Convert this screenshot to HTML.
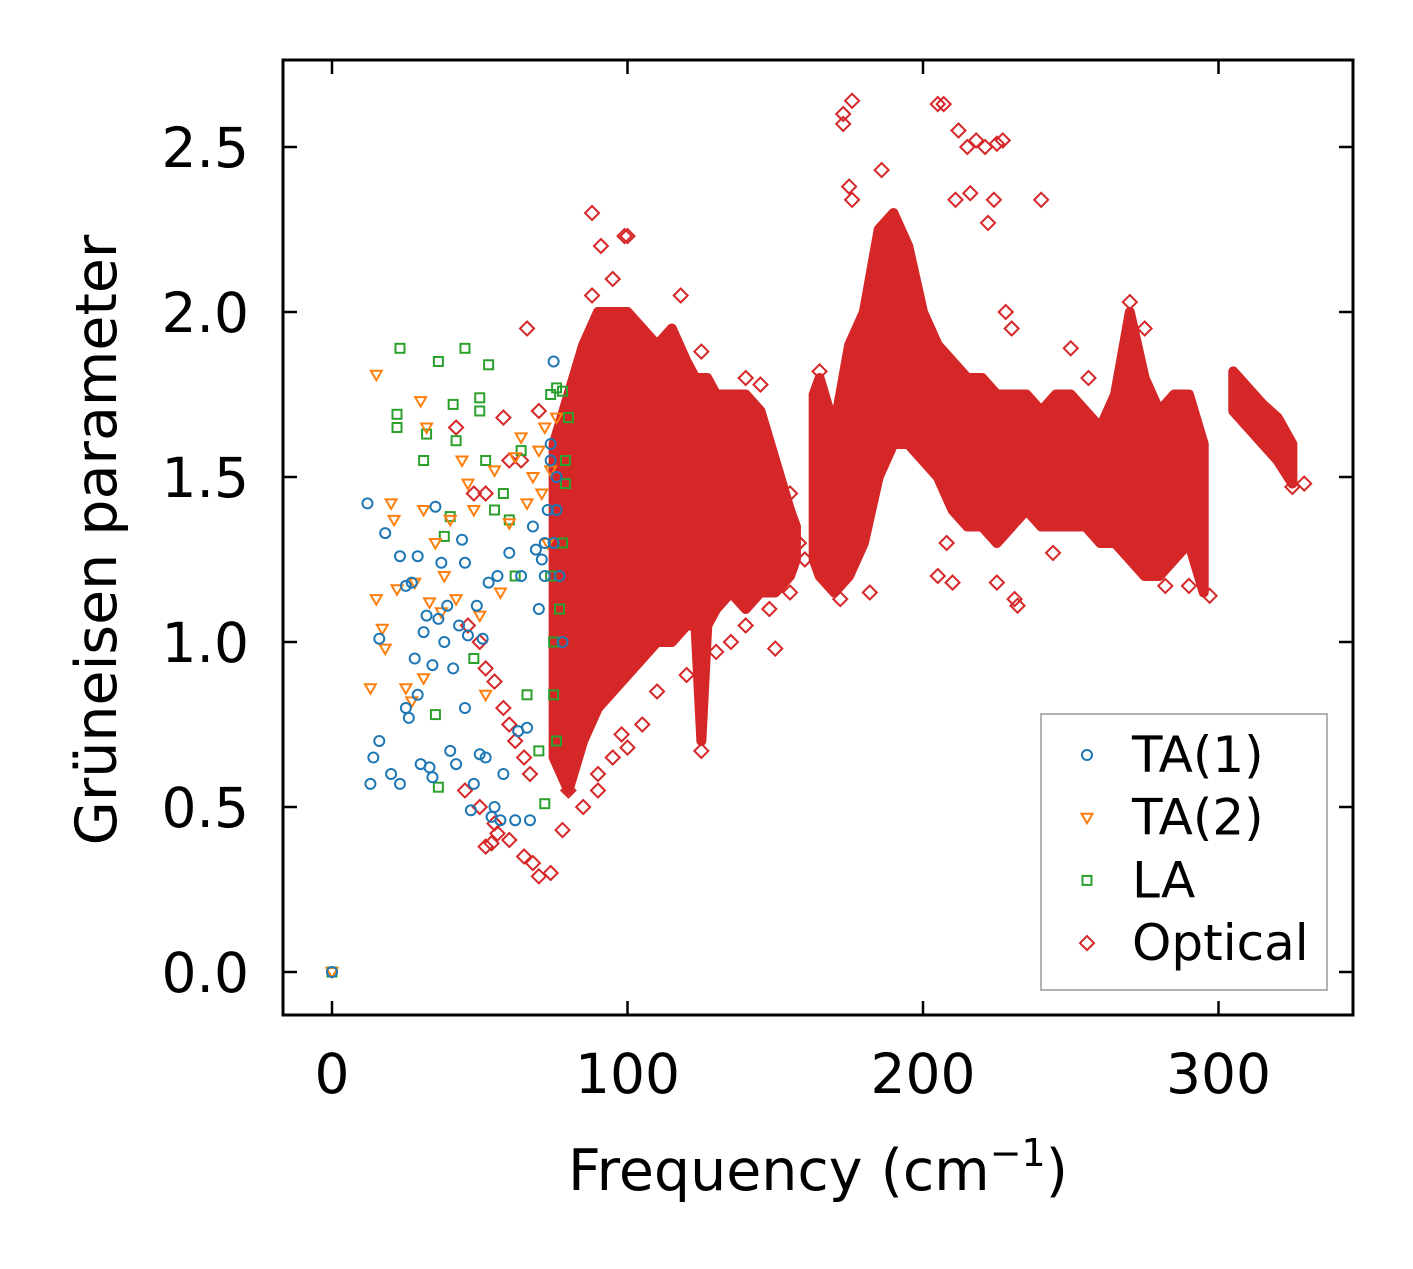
<!DOCTYPE html>
<html><head><meta charset="utf-8"><style>
body{margin:0;background:#fff}
svg text{font-family:"DejaVu Sans","Liberation Sans",sans-serif;fill:#000}
</style></head><body>
<svg width="1413" height="1264" viewBox="0 0 1413 1264" id="chart">
<rect x="0" y="0" width="1413" height="1264" fill="#fff"/>
<g id="plot"></g>
<g id="axes"></g>
<text x="116" y="540" font-size="57" text-anchor="middle" transform="rotate(-90 116 540)">Grüneisen parameter</text>
<text x="818" y="1190" font-size="57" text-anchor="middle">Frequency (cm<tspan dy="-24" font-size="38">−1</tspan><tspan dy="24">)</tspan></text>
<g id="legend"></g>
</svg>
<script>
const xTicks=[0,100,200,300];
const yTicks=[0.0,0.5,1.0,1.5,2.0,2.5];
const xTickLabels=["0","100","200","300"];
const yTickLabels=["0.0","0.5","1.0","1.5","2.0","2.5"];
const ta1=[[0,0],[12,1.42],[13,0.57],[14,0.65],[16,0.7],[16,1.01],[18,1.33],[20,0.6],[23,1.26],[23,0.57],[25,1.17],[25,0.8],[26,0.77],[27,1.18],[28,0.95],[29,1.26],[29,0.84],[30,0.63],[31,1.03],[32,1.08],[33,0.62],[34,0.93],[34,0.59],[35,1.41],[36,1.07],[37,1.24],[38,1.0],[39,1.11],[40,0.67],[41,0.92],[42,0.63],[43,1.05],[44,1.31],[45,0.8],[45,1.24],[46,1.02],[47,0.49],[48,0.57],[49,1.11],[50,0.66],[51,1.01],[52,0.65],[53,1.18],[54,0.47],[55,0.5],[56,1.2],[57,0.46],[58,0.6],[60,1.27],[62,0.46],[63,0.73],[64,1.2],[66,0.74],[67,0.46],[68,1.35],[70,1.1],[72,1.3],[74,1.55],[75,1.85],[75,1.3],[76,1.4],[77,1.2],[78,1.0],[71,1.25],[73,1.4],[74,1.6],[76,1.5],[69,1.28],[72,1.2]];
const ta2=[[0,0],[13,0.86],[15,1.81],[15,1.13],[17,1.04],[18,0.98],[20,1.42],[21,1.37],[22,1.16],[25,0.86],[27,0.82],[28,1.18],[30,1.73],[31,1.4],[31,0.89],[32,1.65],[33,1.12],[35,1.3],[37,1.09],[38,1.2],[40,1.37],[42,1.13],[44,1.55],[46,1.48],[48,1.4],[50,1.08],[52,0.84],[55,1.52],[57,1.15],[60,1.36],[62,1.56],[64,1.62],[66,1.42],[68,1.5],[70,1.58],[72,1.65],[74,1.52],[76,1.68],[73,1.3],[71,1.45]];
const la=[[0,0],[23,1.89],[22,1.69],[22,1.65],[31,1.55],[32,1.63],[35,0.78],[36,1.85],[36,0.56],[38,1.32],[40,1.38],[41,1.72],[42,1.61],[45,1.89],[48,0.95],[50,1.7],[50,1.74],[53,1.84],[52,1.55],[55,1.4],[58,1.45],[60,1.37],[62,1.2],[64,1.58],[66,0.84],[70,0.67],[72,0.51],[74,1.75],[75,0.84],[76,1.77],[78,1.76],[79,1.48],[80,1.68],[78,1.3],[77,1.1],[75,1.0],[76,0.7],[79,1.55],[74,1.2]];
const optFreq=[75,80,85,90,95,100,105,110,115,120,123,125,127,130,135,140,145,150,155,157,163,165,170,175,180,185,190,195,200,205,210,215,220,225,230,235,240,245,250,255,260,265,270,275,280,285,290,295,305,310,315,320,325];
const optLow=[0.65,0.55,0.7,0.8,0.85,0.9,0.95,1.0,1.0,1.05,1.05,0.7,1.05,1.1,1.15,1.1,1.15,1.15,1.2,1.25,1.25,1.2,1.15,1.2,1.3,1.5,1.6,1.6,1.55,1.5,1.4,1.35,1.35,1.3,1.35,1.4,1.35,1.35,1.35,1.35,1.3,1.3,1.25,1.2,1.2,1.25,1.3,1.15,1.7,1.65,1.6,1.55,1.48];
const optHigh=[1.6,1.75,1.9,2.0,2.0,2.0,1.95,1.9,1.95,1.85,1.8,1.8,1.8,1.75,1.75,1.75,1.7,1.55,1.4,1.35,1.75,1.8,1.65,1.9,2.0,2.25,2.3,2.2,2.0,1.9,1.85,1.8,1.8,1.75,1.75,1.75,1.7,1.75,1.75,1.7,1.65,1.75,2.0,1.8,1.7,1.75,1.75,1.6,1.82,1.77,1.72,1.68,1.6];
const optPts=[[66,1.95],[88,2.3],[91,2.2],[99,2.23],[100,2.23],[176,2.64],[173,2.6],[173,2.57],[205,2.63],[207,2.63],[212,2.55],[215,2.5],[221,2.5],[225,2.51],[227,2.52],[218,2.52],[211,2.34],[216,2.36],[222,2.27],[175,2.38],[176,2.34],[186,2.43],[70,0.29],[74,0.3],[60,0.4],[52,0.38],[54,0.39],[78,0.43],[85,0.5],[90,0.55],[100,0.68],[98,0.72],[42,1.65],[48,1.45],[52,1.45],[58,1.68],[60,1.55],[64,1.55],[70,1.7],[130,0.97],[125,0.67],[150,0.98],[172,1.13],[182,1.15],[205,1.2],[208,1.3],[232,1.11],[231,1.13],[225,1.18],[244,1.27],[282,1.17],[290,1.17],[297,1.14],[329,1.48],[325,1.47],[210,1.18],[240,2.34],[224,2.34],[228,2.0],[230,1.95],[250,1.89],[256,1.8],[243,1.57],[260,1.45],[55,0.45],[56,0.42],[65,0.35],[68,0.33],[80,0.55],[45,0.55],[50,0.5],[46,1.05],[50,1.0],[52,0.92],[55,0.88],[58,0.8],[60,0.75],[62,0.7],[65,0.65],[67,0.6],[88,2.05],[95,2.1],[118,2.05],[125,1.88],[140,1.8],[145,1.78],[155,1.45],[165,1.82],[158,1.3],[160,1.25],[90,0.6],[95,0.65],[105,0.75],[110,0.85],[120,0.9],[135,1.0],[140,1.05],[148,1.1],[155,1.15],[270,2.03],[275,1.95]];
const NS="http://www.w3.org/2000/svg";
const L=283,R=1353,T=60,B=1015;
function sx(v){return 332+v*2.955;}
function sy(v){return 972-v*330;}
function mk(tag,attrs,parent){const e=document.createElementNS(NS,tag);for(const k in attrs)e.setAttribute(k,attrs[k]);parent.appendChild(e);return e;}
const plot=document.getElementById('plot'),axes=document.getElementById('axes'),legend=document.getElementById('legend');
let runs=[[0]];
for(let i=1;i<optFreq.length;i++){ if(optFreq[i]-optFreq[i-1]>5.5) runs.push([i]); else runs[runs.length-1].push(i); }
runs.forEach(run=>{
 let top=run.map(i=>`${sx(optFreq[i])},${sy(optHigh[i])}`);
 let bot=run.slice().reverse().map(i=>`${sx(optFreq[i])},${sy(optLow[i])}`);
 const p=mk('polygon',{points:top.concat(bot).join(' '),fill:'#d62728',stroke:'#d62728','stroke-width':10,'stroke-linejoin':'round'},plot);
 
 
});
function diamond(x,y,p,name){const s=7;const e=mk('path',{d:`M${x} ${y-s}L${x+s} ${y}L${x} ${y+s}L${x-s} ${y}Z`,fill:'none',stroke:'#d62728','stroke-width':2},p);}
function circ(x,y,p,name){const e=mk('circle',{cx:x,cy:y,r:5,fill:'none',stroke:'#1f77b4','stroke-width':2},p);}
function tri(x,y,p,name){const e=mk('path',{d:`M${x-5.5} ${y-4}L${x+5.5} ${y-4}L${x} ${y+5.5}Z`,fill:'none',stroke:'#ff7f0e','stroke-width':2},p);}
function sq(x,y,p,name){const e=mk('rect',{x:x-4.5,y:y-4.5,width:9,height:9,fill:'none',stroke:'#2ca02c','stroke-width':2},p);}
optPts.forEach(p=>diamond(sx(p[0]),sy(p[1]),plot,'optical-point'));
la.forEach(p=>sq(sx(p[0]),sy(p[1]),plot,'la-point'));
ta2.forEach(p=>tri(sx(p[0]),sy(p[1]),plot,'ta2-point'));
ta1.forEach(p=>circ(sx(p[0]),sy(p[1]),plot,'ta1-point'));
const fr=mk('rect',{x:L,y:T,width:R-L,height:B-T,fill:'none',stroke:'#000','stroke-width':3},axes);


xTicks.forEach((v,i)=>{const x=sx(v);
 mk('line',{x1:x,y1:B,x2:x,y2:B-14,stroke:'#000','stroke-width':2.5},axes);
 mk('line',{x1:x,y1:T,x2:x,y2:T+14,stroke:'#000','stroke-width':2.5},axes);
 const t=mk('text',{x:x,y:1093,'font-size':55,'text-anchor':'middle'},axes);t.textContent=xTickLabels[i];
 
 
});
yTicks.forEach((v,i)=>{const y=sy(v);
 mk('line',{x1:L,y1:y,x2:L+14,y2:y,stroke:'#000','stroke-width':2.5},axes);
 mk('line',{x1:R,y1:y,x2:R-14,y2:y,stroke:'#000','stroke-width':2.5},axes);
 const t=mk('text',{x:249,y:y+20,'font-size':55,'text-anchor':'end'},axes);t.textContent=yTickLabels[i];
 
 
});
const lb=mk('rect',{x:1041,y:714,width:286,height:276,fill:'#fff',stroke:'#999','stroke-width':1.5},legend);


const legNames=["TA(1)","TA(2)","LA","Optical"];
const legFns=[circ,tri,sq,diamond];
legNames.forEach((n,i)=>{const y=755+i*62.7;
 legFns[i](1087,y,legend,'legend-marker');
 const t=mk('text',{x:1132,y:y+17,'font-size':50},legend);t.textContent=n;
 
 
});
</script>
</body></html>
